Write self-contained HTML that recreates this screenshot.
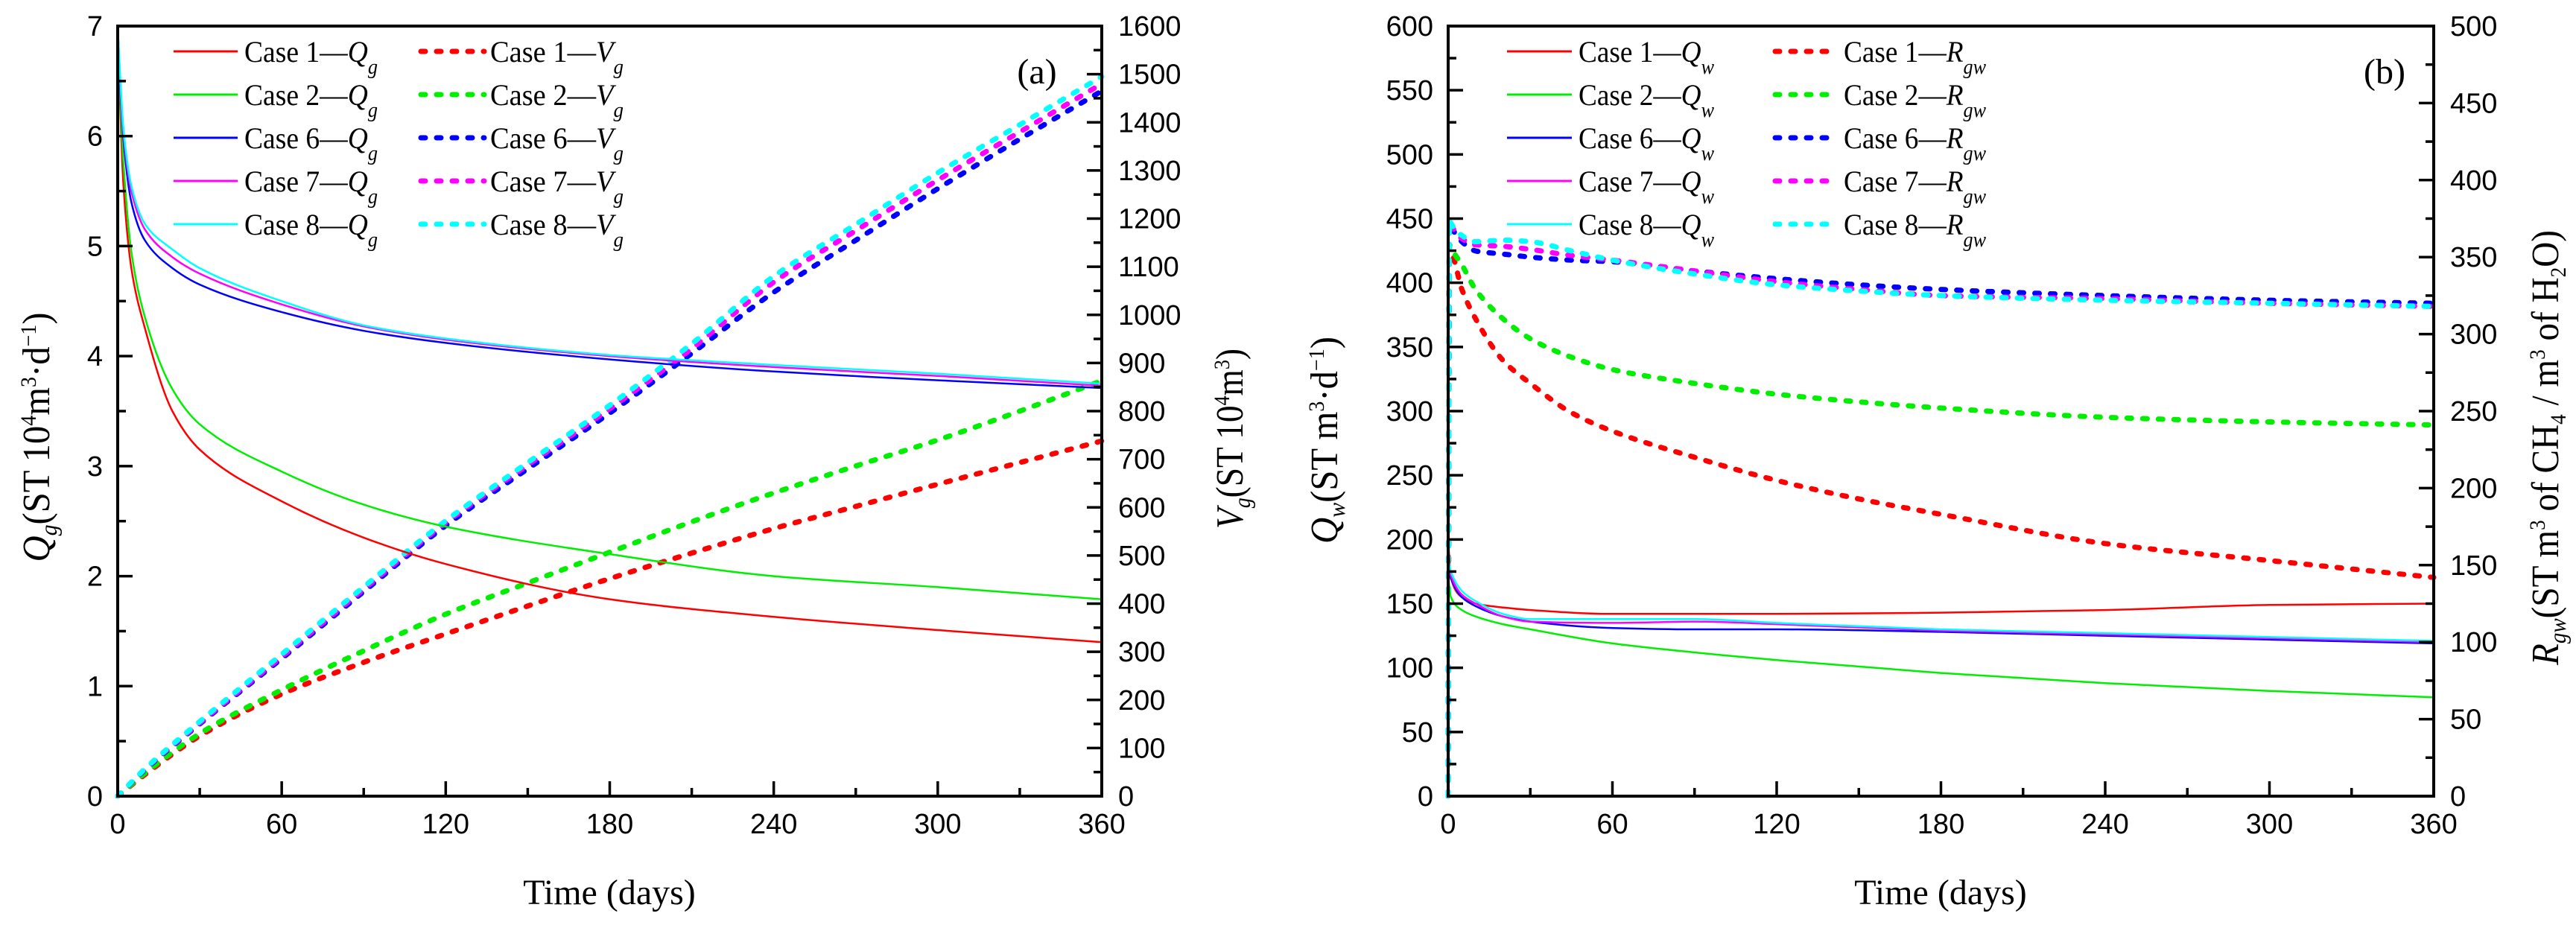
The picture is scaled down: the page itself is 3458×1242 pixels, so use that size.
<!DOCTYPE html>
<html><head><meta charset="utf-8"><style>
html,body{margin:0;padding:0;background:#fff}
svg{display:block}
.tk{font-family:"Liberation Sans",Arial,sans-serif;font-size:38px;fill:#000}
.tt{font-family:"Liberation Serif","Times New Roman",serif;font-size:48px;fill:#000}
.yt{font-family:"Liberation Serif","Times New Roman",serif;font-size:52px;fill:#000}
.lg{font-family:"Liberation Serif","Times New Roman",serif;font-size:40px;fill:#000}
</style></head><body>
<svg id="fig" width="3458" height="1242" viewBox="0 0 3458 1242" xmlns="http://www.w3.org/2000/svg"></svg>
<script>
// ---------- data: panel (a) ----------
const tA = [0, 1, 2, 5, 10, 20, 30, 60, 90, 120, 180, 240, 300, 360];
const qg1 = [7, 6.2, 5.6, 4.8, 4.25, 3.5, 3.15, 2.68, 2.35, 2.11, 1.79, 1.63, 1.51, 1.40];
const qg2 = [7, 6.3, 5.8, 4.95, 4.35, 3.7, 3.38, 2.95, 2.65, 2.45, 2.2, 2.0, 1.9, 1.79];
const qg6 = [7, 6.4, 6.0, 5.4, 5.05, 4.8, 4.65, 4.4, 4.23, 4.12, 3.97, 3.86, 3.78, 3.71];
const qg7 = [7, 6.45, 6.05, 5.5, 5.15, 4.9, 4.75, 4.47, 4.27, 4.15, 4.0, 3.9, 3.82, 3.73];
const qg8 = [7, 6.5, 6.1, 5.55, 5.2, 4.97, 4.8, 4.5, 4.28, 4.16, 4.01, 3.92, 3.84, 3.75];
const tV = [0, 10, 30, 60, 90, 120, 150, 180, 210, 240, 270, 300, 330, 360];
const vg1 = [0, 45, 125, 212, 278, 337, 395, 452, 505, 556, 602, 648, 693, 738];
const vg2 = [0, 48, 130, 221, 302, 378, 443, 507, 570, 630, 686, 740, 800, 863];
const vg6 = [0, 55, 150, 286, 425, 562, 680, 796, 920, 1047, 1155, 1262, 1365, 1465];
const vg7 = [0, 56, 152, 290, 430, 568, 688, 805, 930, 1068, 1175, 1280, 1380, 1480];
const vg8 = [0, 57, 155, 295, 435, 572, 693, 812, 940, 1080, 1188, 1295, 1395, 1495];
// ---------- data: panel (b) ----------
const tB = [0, 1, 5, 10, 20, 30, 60, 90, 120, 180, 240, 300, 360];
const qw1 = [200, 170, 155, 150, 147, 145, 142, 142, 142, 143, 145, 149, 150];
const qw2 = [170, 155, 145, 140, 134, 130, 119, 112, 106, 96, 88, 82, 77];
const qw6 = [180, 170, 155, 148, 140, 136, 131, 130, 130, 128, 125, 122, 119];
const qw7 = [182, 172, 157, 150, 140, 136, 135, 136, 134, 129, 126, 123, 120];
const qw8 = [185, 175, 160, 152, 142, 138, 138, 138, 135, 130, 127, 124, 121];
const tR = [0, 0.5, 1, 5, 10, 20, 30, 45, 60, 90, 120, 150, 180, 240, 300, 360];
const rg1 = [0, 350, 352, 329, 310, 283, 268, 249, 237, 220, 205, 193, 183, 164, 153, 142];
const rg2 = [0, 358, 356, 345, 329, 310, 297, 285, 277, 268, 261, 256, 252, 246, 243, 241];
const rg6 = [0, 372, 370, 360, 354, 352, 350, 348, 347, 341, 336, 332, 329, 325, 322, 320];
const rg7 = [0, 373, 371, 362, 358, 357, 355, 351, 348, 341, 334, 329, 325, 323, 320, 318];
const rg8 = [0, 374, 372, 364, 360, 361, 360, 354, 348, 339, 332, 328, 325, 322, 320, 318];
const caseNames = ["Case 1", "Case 2", "Case 6", "Case 7", "Case 8"];
const xTicks = [0, 60, 120, 180, 240, 300, 360];
const qgTicks = [0, 1, 2, 3, 4, 5, 6, 7];
const vgTicks = [0, 100, 200, 300, 400, 500, 600, 700, 800, 900, 1000, 1100, 1200, 1300, 1400, 1500, 1600];
const qwTicks = [0, 50, 100, 150, 200, 250, 300, 350, 400, 450, 500, 550, 600];
const rgTicks = [0, 50, 100, 150, 200, 250, 300, 350, 400, 450, 500];

const colors = ["#ff0000", "#00ee00", "#0000ff", "#ff00ff", "#00ffff"];
const NS = "http://www.w3.org/2000/svg";
const fig = document.getElementById("fig");
function mk(tag, attrs, parent) {
  const e = document.createElementNS(NS, tag);
  for (const k in attrs) e.setAttribute(k, attrs[k]);
  (parent || fig).appendChild(e);
  return e;
}
function smoothPath(p) {
  const n = p.length;
  const dx = [], s = [];
  for (let i = 0; i < n - 1; i++) {
    dx.push(p[i + 1][0] - p[i][0]);
    s.push(dx[i] === 0 ? 0 : (p[i + 1][1] - p[i][1]) / dx[i]);
  }
  const m = new Array(n);
  m[0] = s[0]; m[n - 1] = s[n - 2];
  for (let i = 1; i < n - 1; i++) {
    if (s[i - 1] * s[i] <= 0 || dx[i - 1] === 0 || dx[i] === 0) m[i] = 0;
    else {
      const w1 = 2 * dx[i] + dx[i - 1], w2 = dx[i] + 2 * dx[i - 1];
      m[i] = (w1 + w2) / (w1 / s[i - 1] + w2 / s[i]);
    }
  }
  let d = "M" + p[0][0].toFixed(1) + "," + p[0][1].toFixed(1);
  for (let i = 0; i < n - 1; i++) {
    if (dx[i] === 0) { d += " L" + p[i + 1][0].toFixed(1) + "," + p[i + 1][1].toFixed(1); continue; }
    const h = dx[i] / 3;
    d += " C" + [p[i][0] + h, p[i][1] + m[i] * h, p[i + 1][0] - h, p[i + 1][1] - m[i + 1] * h, p[i + 1][0], p[i + 1][1]].map(v => v.toFixed(1)).join(",");
  }
  return d;
}
const TOP = 35, BOT = 1069;

function panel(cfg) {
  const g = mk("g", {});
  
  
  const L = cfg.left, R = cfg.right;
  const xs = t => L + (t / 360) * (R - L);
  const yl = v => BOT - (v / cfg.lmax) * (BOT - TOP);
  const yr = v => BOT - (v / cfg.rmax) * (BOT - TOP);
  const sg = mk("g", {}, g);
  
  
  cfg.rSeries.forEach((s, i) => {
    const p = mk("path", {d: smoothPath(cfg.rT.map((t, j) => [xs(t), yr(s[j])])), fill: "none", stroke: colors[i], "stroke-width": 7, "stroke-dasharray": "6 15", "stroke-linecap": "round"}, sg);
    
    
  });
  cfg.lSeries.forEach((s, i) => {
    const p = mk("path", {d: smoothPath(cfg.lT.map((t, j) => [xs(t), yl(s[j])])), fill: "none", stroke: colors[i], "stroke-width": 2.5}, sg);
    
    
  });
  const fr = mk("rect", {x: L, y: TOP, width: R - L, height: BOT - TOP, fill: "none", stroke: "#000", "stroke-width": 4}, g);
  
  
  const xa = mk("g", {}, g);
  
  
  for (let t = 0; t <= 360; t += 30) {
    const major = t % 60 === 0;
    mk("line", {x1: xs(t), x2: xs(t), y1: BOT, y2: BOT - (major ? 20 : 11), stroke: "#000", "stroke-width": 3.5}, xa);
  }
  xTicks.forEach(t => {
    const tx = mk("text", {x: xs(t), y: BOT + 50, "text-anchor": "middle", class: "tk"}, xa);
    tx.textContent = t;
    
    
  });
  const la = mk("g", {}, g);
  
  
  const lt = cfg.lTicks, lstep = lt[1] - lt[0];
  for (let v = 0; v <= cfg.lmax + 1e-9; v += lstep / 2) {
    const major = Math.abs(v / lstep - Math.round(v / lstep)) < 1e-6;
    mk("line", {x1: L, x2: L + (major ? 20 : 11), y1: yl(v), y2: yl(v), stroke: "#000", "stroke-width": 3.5}, la);
  }
  lt.forEach(v => {
    const tx = mk("text", {x: L - 20, y: yl(v) + 13, "text-anchor": "end", class: "tk"}, la);
    tx.textContent = v;
    
    
  });
  const ra = mk("g", {}, g);
  
  
  const rt = cfg.rTicks, rstep = rt[1] - rt[0];
  for (let v = 0; v <= cfg.rmax + 1e-9; v += rstep / 2) {
    const major = Math.abs(v / rstep - Math.round(v / rstep)) < 1e-6;
    mk("line", {x1: R, x2: R - (major ? 20 : 11), y1: yr(v), y2: yr(v), stroke: "#000", "stroke-width": 3.5}, ra);
  }
  rt.forEach(v => {
    const tx = mk("text", {x: R + 22, y: yr(v) + 13, "text-anchor": "start", class: "tk"}, ra);
    tx.textContent = v;
    
    
  });
  const xt = mk("text", {x: cfg.xTitleX, y: 1214, "text-anchor": "middle", class: "tt"}, g);
  xt.textContent = "Time (days)";
  
  
  const ylt = mk("text", {transform: `translate(${cfg.lTitleX},${cfg.lTitleY}) rotate(-90)`, x: -cfg.lLen / 2, y: 0, textLength: cfg.lLen, lengthAdjust: "spacingAndGlyphs", class: "yt"}, g);
  ylt.innerHTML = cfg.lTitle;
  
  
  const yrt = mk("text", {transform: `translate(${cfg.rTitleX},${cfg.rTitleY}) rotate(-90)`, x: -cfg.rLen / 2, y: 0, textLength: cfg.rLen, lengthAdjust: "spacingAndGlyphs", class: "yt"}, g);
  yrt.innerHTML = cfg.rTitle;
  
  
  const pl = mk("text", {x: cfg.letterX, y: 112, "text-anchor": "middle", class: "tt", "font-size": "56"}, g);
  pl.textContent = cfg.letter;
  
  
  const lg = mk("g", {}, g);
  
  
  caseNames.forEach((c, i) => {
    const y = 69 + i * 58;
    const e1 = mk("g", {}, lg);
    
    
    mk("line", {x1: cfg.lg[0], x2: cfg.lg[1], y1: y, y2: y, stroke: colors[i], "stroke-width": 3}, e1);
    const t1 = mk("text", {x: cfg.lg[2], y: y + 14, class: "lg", textLength: cfg.lg[3] - cfg.lg[2], lengthAdjust: "spacingAndGlyphs"}, e1);
    t1.innerHTML = c + "\u2014<tspan font-style='italic'>" + cfg.lSym + "</tspan><tspan font-style='italic' font-size='28' dy='16'>" + cfg.lSub + "</tspan>";
    const e2 = mk("g", {}, lg);
    
    
    mk("line", {x1: cfg.lg[4] + 4, x2: cfg.lg[5], y1: y, y2: y, stroke: colors[i], "stroke-width": 7, "stroke-dasharray": "6 15", "stroke-linecap": "round"}, e2);
    const t2 = mk("text", {x: cfg.lg[6], y: y + 14, class: "lg", textLength: cfg.lg[7] - cfg.lg[6], lengthAdjust: "spacingAndGlyphs"}, e2);
    t2.innerHTML = c + "\u2014<tspan font-style='italic'>" + cfg.rSym + "</tspan><tspan font-style='italic' font-size='28' dy='16'>" + cfg.rSub + "</tspan>";
  });
}

panel({name: "chart-a", left: 158, right: 1479, lmax: 7, rmax: 1600,
  lT: tA, lSeries: [qg1, qg2, qg6, qg7, qg8], lKey: "qg",
  rT: tV, rSeries: [vg1, vg2, vg6, vg7, vg8], rKey: "vg",
  lTicks: qgTicks, rTicks: vgTicks, xTitleX: 818,
  lTitleX: 66, lTitleY: 587, lLen: 335, rTitleX: 1668, rTitleY: 589, rLen: 242,
  lTitle: "<tspan font-style='italic'>Q</tspan><tspan font-style='italic' font-size='32' dy='10'>g</tspan><tspan dy='-10'>(ST 10</tspan><tspan font-size='30' dy='-18'>4</tspan><tspan dy='18'>m</tspan><tspan font-size='30' dy='-18'>3</tspan><tspan dy='18'>·d</tspan><tspan font-size='30' dy='-18'>−1</tspan><tspan dy='18'>)</tspan>",
  rTitle: "<tspan font-style='italic'>V</tspan><tspan font-style='italic' font-size='32' dy='10'>g</tspan><tspan dy='-10'>(ST 10</tspan><tspan font-size='30' dy='-18'>4</tspan><tspan dy='18'>m</tspan><tspan font-size='30' dy='-18'>3</tspan><tspan dy='18'>)</tspan>",
  letter: "(a)", letterX: 1392,
  lg: [233, 319, 328, 507, 561, 650, 658, 837], lSym: "Q", lSub: "g", rSym: "V", rSub: "g"});

panel({name: "chart-b", left: 1944, right: 3267, lmax: 600, rmax: 500,
  lT: tB, lSeries: [qw1, qw2, qw6, qw7, qw8], lKey: "qw",
  rT: tR, rSeries: [rg1, rg2, rg6, rg7, rg8], rKey: "rgw",
  lTicks: qwTicks, rTicks: rgTicks, xTitleX: 2605,
  lTitleX: 1795, lTitleY: 591, lLen: 278, rTitleX: 3434, rTitleY: 601, rLen: 584,
  lTitle: "<tspan font-style='italic'>Q</tspan><tspan font-style='italic' font-size='32' dy='10'>w</tspan><tspan dy='-10'>(ST m</tspan><tspan font-size='30' dy='-18'>3</tspan><tspan dy='18'>·d</tspan><tspan font-size='30' dy='-18'>−1</tspan><tspan dy='18'>)</tspan>",
  rTitle: "<tspan font-style='italic'>R</tspan><tspan font-style='italic' font-size='32' dy='10'>gw</tspan><tspan dy='-10'>(ST m</tspan><tspan font-size='30' dy='-18'>3</tspan><tspan dy='18'> of CH</tspan><tspan font-size='30' dy='10'>4</tspan><tspan dy='-10'> / m</tspan><tspan font-size='30' dy='-18'>3</tspan><tspan dy='18'> of H</tspan><tspan font-size='30' dy='10'>2</tspan><tspan dy='-10'>O)</tspan>",
  letter: "(b)", letterX: 3201,
  lg: [2023, 2110, 2119, 2301, 2379, 2465, 2475, 2666], lSym: "Q", lSub: "w", rSym: "R", rSub: "gw"});
</script>
</body></html>
